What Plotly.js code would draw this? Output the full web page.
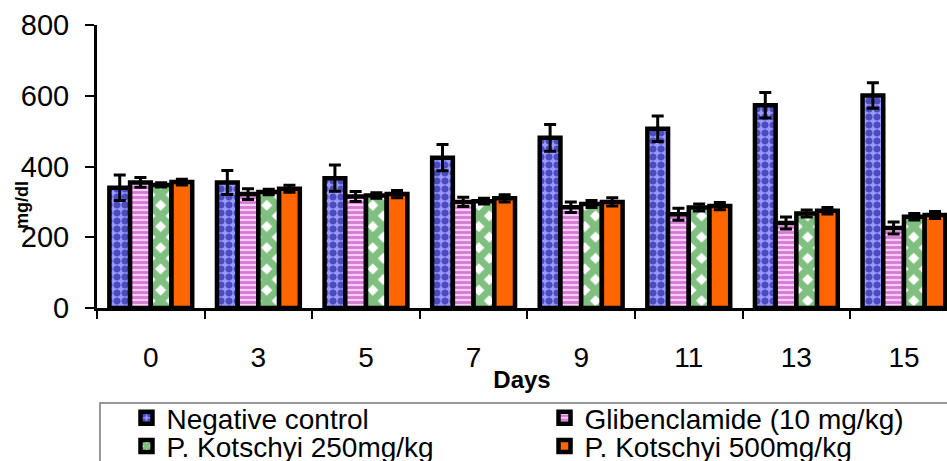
<!DOCTYPE html>
<html>
<head>
<meta charset="utf-8">
<script src="https://cdn.plot.ly/plotly-3.0.1.min.js"></script>
<style>html,body{margin:0;padding:0;background:#fff;}#chart{width:947px;height:461px;}</style>
</head>
<body>
<div id="chart"></div>
<script>
const days = ['0', '3', '5', '7', '9', '11', '13', '15'];
const seriesNames = ['Negative control', 'Glibenclamide (10 mg/kg)', 'P. Kotschyi 250mg/kg', 'P. Kotschyi 500mg/kg'];
const negControl = [340, 355, 367, 425, 481, 507, 573, 601];
const negControlErr = [36, 34, 37, 37, 38, 36, 36, 36];
const glibenclamide = [355, 322, 315, 300, 285, 265, 240, 226];
const glibenclamideErr = [14, 15, 14, 13, 15, 17, 17, 17];
const pk250 = [348, 328, 318, 302, 294, 284, 267, 258];
const pk250Err = [6, 8, 8, 8, 10, 10, 10, 9];
const pk500 = [356, 337, 322, 310, 300, 288, 275, 263];
const pk500Err = [8, 10, 10, 10, 12, 10, 9, 10];
const yTicks = [0, 200, 400, 600, 800];

const FONT = 'Liberation Sans, Arial, sans-serif';
function bar(name, y, err, fill, pattern, legendId) {
  return {
    type: 'bar', name: name, x: days, y: y, legend: legendId,
    error_y: {type: 'data', array: err, visible: true, color: '#000', thickness: 3, width: 6},
    marker: {color: fill, line: {color: '#000', width: 4.5}, pattern: pattern}
  };
}
const data = [
  bar(seriesNames[0], negControl, negControlErr, '#9999FF', {shape: '.', fgcolor: '#000080', bgcolor: '#9999FF', size: 8, solidity: 0.6, fillmode: 'overlay'}, 'legend'),
  bar(seriesNames[1], glibenclamide, glibenclamideErr, '#FFCCFF', {shape: '-', fgcolor: '#A828A8', bgcolor: '#FFCCFF', size: 5, solidity: 0.55, fillmode: 'overlay'}, 'legend2'),
  bar(seriesNames[2], pk250, pk250Err, '#FFFFFF', {shape: 'x', fgcolor: '#008000', bgcolor: '#FFFFFF', size: 15, solidity: 0.72, fillmode: 'overlay'}, 'legend3'),
  bar(seriesNames[3], pk500, pk500Err, '#FF6600', {shape: ''}, 'legend4')
];

function leg(x, y) {
  return {x: x, xanchor: 'left', y: y, yanchor: 'middle', borderwidth: 0, bgcolor: 'rgba(0,0,0,0)',
          font: {size: 28, family: FONT}, itemwidth: 30};
}
const row1 = -0.389, row2 = -0.489, col1 = 0.0347, col2 = 0.5265;

const layout = {
  width: 947, height: 461,
  margin: {l: 97, r: 0, t: 25, b: 153, autoexpand: false},
  paper_bgcolor: '#fff', plot_bgcolor: '#fff',
  font: {family: FONT, color: '#000'},
  barmode: 'group', bargap: 0.23, bargroupgap: 0,
  showlegend: true,
  xaxis: {
    type: 'category', range: [-0.5, 7.4],
    showline: true, linecolor: '#000', linewidth: 3,
    ticks: 'outside', tickson: 'boundaries', ticklen: 8, tickwidth: 2, tickcolor: '#000',
    tickfont: {size: 28, family: FONT}, ticklabelstandoff: 22,
    title: {text: '<b>Days</b>', font: {size: 24, family: FONT}, standoff: 0},
    showgrid: false, zeroline: false, fixedrange: true
  },
  yaxis: {
    range: [0, 800], tickvals: yTicks, ticktext: yTicks.map(String),
    showline: true, linecolor: '#000', linewidth: 3,
    ticks: 'outside', ticklen: 9, tickwidth: 2, tickcolor: '#000',
    tickfont: {size: 29, family: FONT}, ticklabelstandoff: 10,
    showgrid: false, zeroline: false, fixedrange: true
  },
  annotations: [{
    text: '<b>mg/dl</b>', xref: 'paper', yref: 'paper',
    x: -0.088, y: 0.365, xanchor: 'center', yanchor: 'middle',
    textangle: -90, showarrow: false, font: {size: 18, family: FONT}
  }],
  shapes: [{
    type: 'rect', xref: 'paper', yref: 'paper', layer: 'below',
    x0: 0.0035, x1: 1.2, y0: -0.336, y1: -0.7,
    line: {color: '#777', width: 1.5}, fillcolor: 'rgba(0,0,0,0)'
  }],
  legend: leg(col1, row1),
  legend2: leg(col2, row1),
  legend3: leg(col1, row2),
  legend4: leg(col2, row2)
};
Plotly.newPlot('chart', data, layout, {displayModeBar: false, staticPlot: true});
</script>
</body>
</html>
